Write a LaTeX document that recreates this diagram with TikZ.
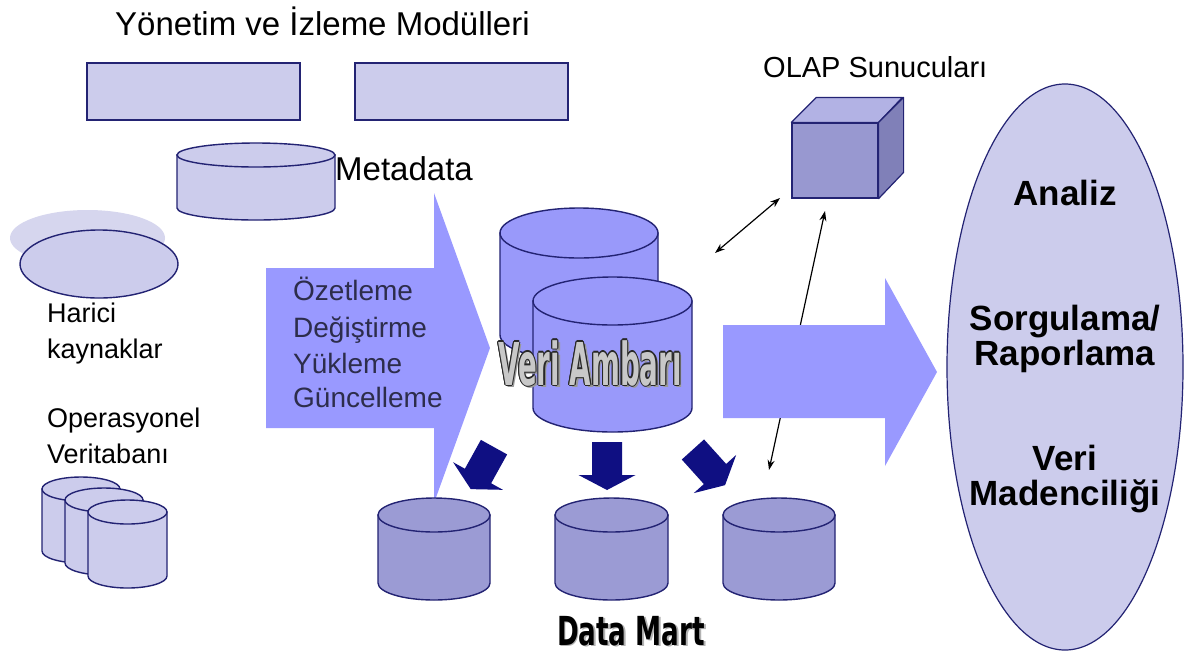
\documentclass[tikz,border=0pt]{standalone}
\usepackage{fontspec}
\setmainfont{Liberation Sans}
\newfontfamily\wideheavy{DejaVu Sans}[FakeStretch=0.47]
\newfontfamily\martheavy{DejaVu Sans}[FakeStretch=0.655]
\usetikzlibrary{arrows.meta,shapes.geometric}

\definecolor{lav}{RGB}{204,204,236}
\definecolor{lavshadow}{RGB}{214,214,238}
\definecolor{periw}{RGB}{153,153,255}
\definecolor{whblue}{RGB}{153,153,250}
\definecolor{martblue}{RGB}{155,155,212}
\definecolor{cubefront}{RGB}{152,152,208}
\definecolor{cubetop}{RGB}{178,178,228}
\definecolor{cubeside}{RGB}{128,128,184}
\definecolor{edge}{RGB}{35,35,115}
\definecolor{navyarrow}{RGB}{15,15,130}
\definecolor{labelink}{RGB}{45,45,75}
\definecolor{hollowedge}{RGB}{40,40,40}
\definecolor{hollowfill}{RGB}{200,200,200}

% cylinder: left x, right x, lid centre y, bottom centre y, half height of lid, fill
\newcommand\drum[6]{%
  \pgfmathsetmacro\drumrx{(#2-#1)/2}%
  \pgfmathsetmacro\drumcx{(#1+#2)/2}%
  \filldraw[fill=#6,draw=edge,line width=1.4pt]
    (#1,#3) -- (#1,#4) arc[start angle=180,end angle=360,x radius=\drumrx pt,y radius=#5pt]
    -- (#2,#3) -- cycle;
  \filldraw[fill=#6,draw=edge,line width=1.4pt]
    (\drumcx,#3) ellipse[x radius=\drumrx pt,y radius=#5pt];
}

% thick block arrow, base centre at (#1,#2), pointing down turned by #3 degrees
\newcommand\blockarrow[3]{%
  \begin{scope}[shift={(#1,#2)},rotate=#3]
    \fill[navyarrow] (-15,-33) -- (15,-33) -- (15,0) -- (28.5,0) -- (0,15)
      -- (-28.5,0) -- (-15,0) -- cycle;
  \end{scope}
}

% outlined lettering with a drop shadow
\newcommand\hollowtxt[1]{%
  \setbox2=\hbox{#1}%
  \rlap{\kern2.5pt\raisebox{-2.5pt}{\textcolor{black!40}{\copy2}}}%
  \rlap{\kern-1.1pt\textcolor{hollowedge}{\copy2}}%
  \rlap{\kern1.1pt\textcolor{hollowedge}{\copy2}}%
  \rlap{\raisebox{1.1pt}{\textcolor{hollowedge}{\copy2}}}%
  \rlap{\raisebox{-1.1pt}{\textcolor{hollowedge}{\copy2}}}%
  \rlap{\kern.8pt\raisebox{.8pt}{\textcolor{hollowedge}{\copy2}}}%
  \rlap{\kern-.8pt\raisebox{.8pt}{\textcolor{hollowedge}{\copy2}}}%
  \rlap{\kern.8pt\raisebox{-.8pt}{\textcolor{hollowedge}{\copy2}}}%
  \rlap{\kern-.8pt\raisebox{-.8pt}{\textcolor{hollowedge}{\copy2}}}%
  \textcolor{hollowfill}{\copy2}%
}
\newcommand\shadowtxt[1]{%
  \setbox2=\hbox{#1}%
  \rlap{\kern1.8pt\raisebox{-1.8pt}{\textcolor{black!30}{\copy2}}}%
  \textcolor{black}{\copy2}%
}

\begin{document}
\begin{tikzpicture}[x=1pt,y=-1pt,
  modbox/.style={draw=edge,fill=lav,line width=1.4pt,minimum width=213,minimum height=57,inner sep=0},
  lbl/.style={anchor=base west,inner sep=0,font=\fontsize{27}{27}\selectfont},
  steplbl/.style={anchor=base west,inner sep=0,text=labelink,font=\fontsize{28}{28}\selectfont},
  headlbl/.style={anchor=base west,inner sep=0,font=\fontsize{33}{33}\selectfont},
  uselbl/.style={anchor=base,inner sep=0,font=\bfseries\fontsize{35}{35}\selectfont},
  thinarrow/.style={{Stealth[length=10pt,width=7pt]}-{Stealth[length=10pt,width=7pt]},line width=1.2pt,black},
  bigarrow/.style={fill=periw}]

\useasboundingbox (0,0) rectangle (1185,657);
\fill[white] (0,0) rectangle (1185,657);

% management and monitoring modules
\node[headlbl] (title) at (115,35) {Yönetim ve İzleme Modülleri};
\node[modbox] (mod1) at (193.5,91.5) {};
\node[modbox] (mod2) at (461.5,91.5) {};

% metadata store
\drum{177}{335}{155}{208}{12}{lav}
\node[headlbl] (metalbl) at (335,180) {Metadata};

% external sources
\fill[lavshadow] (87.5,238) ellipse[x radius=77.5pt,y radius=28pt];
\filldraw[fill=lav,draw=edge,line width=1.4pt] (99,264) ellipse[x radius=79pt,y radius=34pt];
\node[lbl] (ext1) at (47,322) {Harici};
\node[lbl] (ext2) at (47,358) {kaynaklar};

% operational databases
\node[lbl] (op1) at (47,427) {Operasyonel};
\node[lbl] (op2) at (47,463) {Veritabanı};
\drum{42}{120}{489}{551}{12}{lav}
\drum{65}{143}{500}{563}{12}{lav}
\drum{88}{167}{512}{576}{12}{lav}

% ETL arrow
\fill[bigarrow] (266,268) -- (434,268) -- (434,193) -- (490,348) -- (434,503)
  -- (434,428) -- (266,428) -- cycle;
\node[steplbl] (s1) at (293,300) {Özetleme};
\node[steplbl] (s2) at (293,337) {Değiştirme};
\node[steplbl] (s3) at (293,373) {Yükleme};
\node[steplbl] (s4) at (293,407) {Güncelleme};

% data marts
\drum{378}{490}{515}{583}{17}{martblue}
\drum{555}{668}{515}{583}{17}{martblue}
\drum{723}{835}{515}{583}{17}{martblue}

% data warehouse
\drum{500}{658}{233}{335}{25}{whblue}
\drum{533}{692}{301}{408}{24}{whblue}
\node[anchor=base,inner sep=0] (whlbl) at (590,385)
  {\hollowtxt{\wideheavy\bfseries\fontsize{59}{59}\selectfont Veri Ambarı}};

% distribution to the marts
\blockarrow{478}{476}{-29}
\blockarrow{607}{475}{0}
\blockarrow{715}{474}{42}

% OLAP links
\coordinate (whNE) at (715,253);
\coordinate (cubeSW) at (780,198);
\coordinate (cubeS) at (825,211);
\coordinate (martNE) at (769,470);
\draw[thinarrow] (whNE) -- (cubeSW);
\draw[thinarrow] (cubeS) -- (martNE);

% arrow towards the applications
\fill[bigarrow] (723,325) -- (885,325) -- (885,278) -- (937,372) -- (885,466)
  -- (885,418) -- (723,418) -- cycle;

% OLAP server cube
\node[draw=edge,fill=cubefront,line width=1.2pt,minimum width=86,minimum height=75,inner sep=0]
  (olap) at (835,160.5) {};
\filldraw[fill=cubetop,draw=edge,line width=1.2pt,line join=round]
  (olap.north west) -- ++(25,-25) -- ++(86,0) -- (olap.north east) -- cycle;
\filldraw[fill=cubeside,draw=edge,line width=1.2pt,line join=round]
  (olap.north east) -- ++(25,-25) -- ++(0,75) -- (olap.south east) -- cycle;
\node[anchor=base west,inner sep=0,font=\fontsize{29}{29}\selectfont] (olaplbl) at (763,77) {OLAP Sunucuları};

% applications
\node[ellipse,draw=edge,fill=lav,line width=1.2pt,minimum width=236,minimum height=566,inner sep=0]
  (apps) at (1065,367) {};
\node[uselbl] (u1) at (1065,205) {Analiz};
\node[uselbl] (u2) at (1065,330) {Sorgulama/};
\node[uselbl] (u3) at (1065,365) {Raporlama};
\node[uselbl] (u4) at (1065,470) {Veri};
\node[uselbl] (u5) at (1065,505) {Madenciliği};

% data mart caption
\node[anchor=base,inner sep=0] (martlbl) at (631,645)
  {\shadowtxt{\martheavy\bfseries\fontsize{40}{40}\selectfont Data Mart}};
\end{tikzpicture}
\end{document}
